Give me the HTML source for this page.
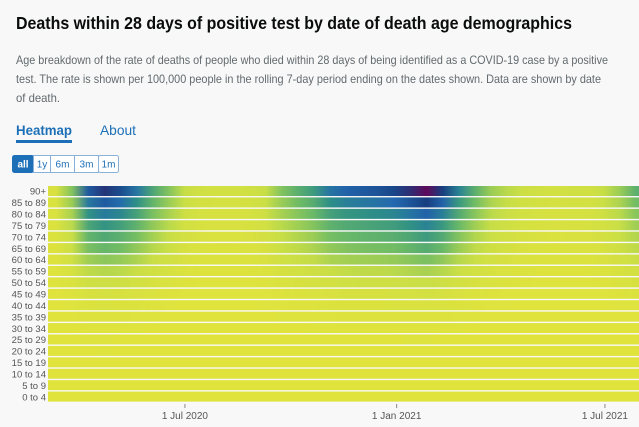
<!DOCTYPE html>
<html><head><meta charset="utf-8"><style>
html,body{margin:0;padding:0;background:#f8f8f8;}
body{width:639px;height:427px;overflow:hidden;font-family:"Liberation Sans",sans-serif;}
</style></head><body>
<svg id="page" width="639" height="427" xmlns="http://www.w3.org/2000/svg" style="display:block">
<defs id="defs"></defs>
<rect x="0" y="0" width="639" height="427" fill="#f8f8f8"/>
<text x="16" y="29" font-size="17.5" font-weight="bold" fill="#0b0c0c" textLength="556" lengthAdjust="spacingAndGlyphs">Deaths within 28 days of positive test by date of death age demographics</text>
<g font-size="11.8" fill="#626a6e">
<text x="16" y="64" textLength="592" lengthAdjust="spacingAndGlyphs">Age breakdown of the rate of deaths of people who died within 28 days of being identified as a COVID-19 case by a positive</text>
<text x="16" y="83" textLength="585" lengthAdjust="spacingAndGlyphs">test. The rate is shown per 100,000 people in the rolling 7-day period ending on the dates shown. Data are shown by date</text>
<text x="16" y="102" textLength="44" lengthAdjust="spacingAndGlyphs">of death.</text>
</g>
<text x="16" y="135" font-size="14" font-weight="bold" fill="#1d70b8" textLength="56" lengthAdjust="spacingAndGlyphs">Heatmap</text>
<rect x="16" y="140" width="56" height="3" fill="#1d70b8"/>
<text x="100" y="135" font-size="14" fill="#1d70b8" textLength="36" lengthAdjust="spacingAndGlyphs">About</text>
<g font-size="10">
<rect x="12.5" y="155.5" width="21" height="17" rx="2" fill="#1d70b8" stroke="#1d70b8"/>
<text x="23" y="167.5" fill="#fff" text-anchor="middle" font-weight="bold">all</text>
<rect x="33.5" y="155.5" width="17" height="17" fill="#fff" stroke="#8ab1d9"/>
<text x="42" y="167.5" fill="#1d70b8" text-anchor="middle">1y</text>
<rect x="50.5" y="155.5" width="24" height="17" fill="#fff" stroke="#8ab1d9"/>
<text x="62.5" y="167.5" fill="#1d70b8" text-anchor="middle">6m</text>
<rect x="74.5" y="155.5" width="24" height="17" fill="#fff" stroke="#8ab1d9"/>
<text x="86.5" y="167.5" fill="#1d70b8" text-anchor="middle">3m</text>
<rect x="98.5" y="155.5" width="20" height="17" rx="2" fill="#fff" stroke="#8ab1d9"/>
<text x="108.5" y="167.5" fill="#1d70b8" text-anchor="middle">1m</text>
</g>
<g id="heatmap"></g>
<g id="yaxis"></g>
<g id="xaxis"></g>
</svg>
<script>
const ageBands = ["90+","85 to 89","80 to 84","75 to 79","70 to 74","65 to 69","60 to 64","55 to 59","50 to 54","45 to 49","40 to 44","35 to 39","30 to 34","25 to 29","20 to 24","15 to 19","10 to 14","5 to 9","0 to 4"];
const periodStart = "2020-03-04";
const periodDays = 14;
const r90 = [5,30,75,88,80,65,45,30,15,10,8,8,10,15,30,40,50,65,72,75,78,82,90,100,85,60,40,25,18,12,10,8,10,10,15,25,40];
const r85 = [4,25,64,75,68,55,38,25,13,8,7,7,8,13,25,34,42,55,61,64,66,70,77,85,72,51,34,21,15,10,8,7,8,8,13,21,34];
const r80 = [4,22,54,63,58,47,32,22,11,7,6,6,7,11,22,29,36,47,52,54,56,59,65,72,61,43,29,18,13,9,7,6,7,7,11,18,29];
const r75 = [3,18,45,53,48,39,27,18,9,6,5,5,6,9,18,24,30,39,43,45,47,49,54,60,51,36,24,15,11,7,6,5,6,6,9,15,24];
const r70 = [3,15,38,44,40,33,23,15,8,5,4,4,5,8,15,20,25,33,36,38,39,41,45,50,43,30,20,13,9,6,5,4,5,5,8,13,20];
const r65 = [2,13,32,37,34,27,19,13,6,4,3,3,4,6,13,17,21,27,30,32,33,34,38,42,36,25,17,11,8,5,4,3,4,4,6,11,17];
const r60 = [2,10,24,28,26,21,14,10,5,3,3,3,3,5,10,13,16,21,23,24,25,26,29,32,27,19,13,8,6,4,3,3,3,3,5,8,13];
const r55 = [1,7,17,19,18,14,10,7,3,2,2,2,2,3,7,9,11,14,16,17,17,18,20,22,19,13,9,6,4,3,2,2,2,2,3,6,9];
const r50 = [1,4,11,12,11,9,6,4,2,1,1,1,1,2,4,6,7,9,10,11,11,11,13,14,12,8,6,4,3,2,1,1,1,1,2,4,6];
const r45 = [0,2,6,7,6,5,4,2,1,1,1,1,1,1,2,3,4,5,6,6,6,7,7,8,7,5,3,2,1,1,1,1,1,1,1,2,3];
const r40 = [0,1,3,4,3,3,2,1,0,0,0,0,0,1,1,2,2,3,3,3,3,4,4,4,4,3,2,1,1,0,0,0,0,0,0,1,1];
const r35 = [0,0,2,2,2,1,1,0,0,0,0,0,0,0,1,1,1,1,2,2,2,2,2,2,2,1,1,0,0,0,0,0,0,0,0,0,0];
const r30 = [0,0,1,1,1,1,0,0,0,0,0,0,0,0,0,0,1,1,1,1,1,1,1,1,1,1,0,0,0,0,0,0,0,0,0,0,0];
const r25 = [0,0,1,1,0,0,0,0,0,0,0,0,0,0,0,0,0,0,0,0,0,0,1,1,0,0,0,0,0,0,0,0,0,0,0,0,0];
const r20 = [0,0,0,1,0,0,0,0,0,0,0,0,0,0,0,0,0,0,0,0,0,0,0,0,0,0,0,0,0,0,0,0,0,0,0,0,0];
const r15 = [0,0,0,0,0,0,0,0,0,0,0,0,0,0,0,0,0,0,0,0,0,0,0,0,0,0,0,0,0,0,0,0,0,0,0,0,0];
const r10 = [0,0,0,0,0,0,0,0,0,0,0,0,0,0,0,0,0,0,0,0,0,0,0,0,0,0,0,0,0,0,0,0,0,0,0,0,0];
const r5 = [0,0,0,0,0,0,0,0,0,0,0,0,0,0,0,0,0,0,0,0,0,0,0,0,0,0,0,0,0,0,0,0,0,0,0,0,0];
const r0 = [0,0,0,0,0,0,0,0,0,0,0,0,0,0,0,0,0,0,0,0,0,0,0,0,0,0,0,0,0,0,0,0,0,0,0,0,0];
const rates = [r90,r85,r80,r75,r70,r65,r60,r55,r50,r45,r40,r35,r30,r25,r20,r15,r10,r5,r0];
const tickDates = ["2020-07-01","2021-01-01","2021-07-01"];
const tickLabels = ["1 Jul 2020","1 Jan 2021","1 Jul 2021"];

const NS="http://www.w3.org/2000/svg";
const X0=48, X1=639, Y0=186, Y1=403;
const t0=Date.parse(periodStart);
const pxPerDay=(605-185)/365;
function xScale(dateMs){return X0+(dateMs-t0)/86400000*pxPerDay;}
const rowH=(Y1-Y0)/ageBands.length;
function yScale(i){return Y0+i*rowH;}
const stops=[[0,[224,227,60]],[0.15,[200,222,70]],[0.35,[108,186,102]],[0.55,[45,143,134]],[0.7,[35,104,176]],[0.85,[23,62,127]],[1,[94,10,90]]];
function color(v){
  const t=Math.max(0,Math.min(1,v/100));
  for(let k=1;k<stops.length;k++){
    if(t<=stops[k][0]){
      const a=stops[k-1],b=stops[k],f=(t-a[0])/(b[0]-a[0]);
      const c=a[1].map((x,j)=>Math.round(x+(b[1][j]-x)*f));
      return "rgb("+c.join(",")+")";
    }
  }
  return "rgb(94,10,90)";
}
const defs=document.getElementById("defs");
const hm=document.getElementById("heatmap");
const ya=document.getElementById("yaxis");
rates.forEach((row,i)=>{
  const g=document.createElementNS(NS,"linearGradient");
  g.setAttribute("id","g"+i);
  g.setAttribute("gradientUnits","userSpaceOnUse");
  g.setAttribute("x1",X0);g.setAttribute("x2",X1);g.setAttribute("y1",0);g.setAttribute("y2",0);
  row.forEach((v,j)=>{
    const xc=xScale(t0+(j+0.5)*periodDays*86400000);
    const s=document.createElementNS(NS,"stop");
    s.setAttribute("offset",Math.max(0,Math.min(1,(xc-X0)/(X1-X0))));
    s.setAttribute("stop-color",color(v));
    g.appendChild(s);
  });
  defs.appendChild(g);
  const r=document.createElementNS(NS,"rect");
  
  
  r.setAttribute("x",X0);r.setAttribute("width",X1-X0);
  r.setAttribute("y",yScale(i));r.setAttribute("height",rowH-1.4);
  r.setAttribute("fill","url(#g"+i+")");
  hm.appendChild(r);
  const tx=document.createElementNS(NS,"text");
  
  
  tx.setAttribute("x",46);tx.setAttribute("y",yScale(i)+rowH/2+3);
  tx.setAttribute("text-anchor","end");tx.setAttribute("font-size","9.5");tx.setAttribute("fill","#555");
  tx.textContent=ageBands[i];
  ya.appendChild(tx);
});
const xa=document.getElementById("xaxis");
tickDates.forEach((d,k)=>{
  const x=xScale(Date.parse(d));
  const l=document.createElementNS(NS,"line");
  
  
  l.setAttribute("x1",x);l.setAttribute("x2",x);l.setAttribute("y1",404);l.setAttribute("y2",408);
  l.setAttribute("stroke","#888");
  xa.appendChild(l);
  const t=document.createElementNS(NS,"text");
  
  
  t.setAttribute("x",x);t.setAttribute("y",419);t.setAttribute("text-anchor","middle");
  t.setAttribute("font-size","10");t.setAttribute("fill","#555");
  t.textContent=tickLabels[k];
  xa.appendChild(t);
});
</script>
</body></html>
